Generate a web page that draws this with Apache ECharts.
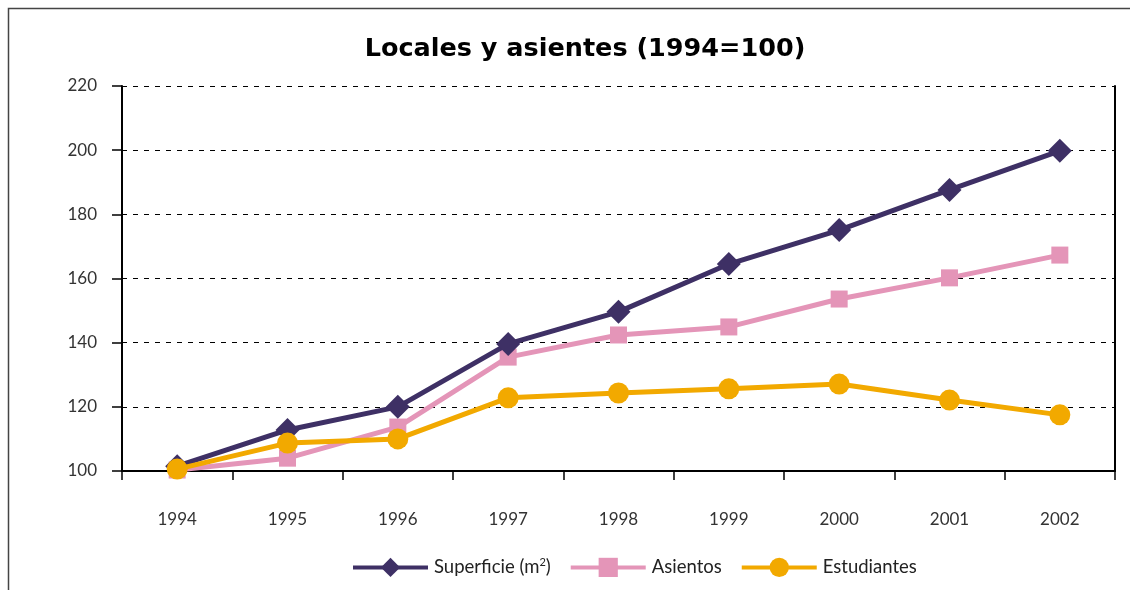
<!DOCTYPE html>
<html><head><meta charset="utf-8">
<script src="https://cdn.jsdelivr.net/npm/echarts@6/dist/echarts.min.js"></script>
<style>html,body{margin:0;padding:0;background:#fff}#c{width:1130px;height:590px}</style>
</head><body><div id="c"></div>
<script>
const years = ['1994','1995','1996','1997','1998','1999','2000','2001','2002'];
const superficie = [101.5, 112.8, 120, 139.6, 149.6, 164.5, 175.1, 187.6, 199.8];
const asientos = [100.3, 104, 113.7, 135.5, 142.4, 144.9, 153.6, 160.2, 167.3];
const estudiantes = [100.6, 108.7, 110, 122.8, 124.3, 125.6, 127.1, 122.1, 117.5];
const yTicks = [100, 120, 140, 160, 180, 200, 220];

const FONT = 'Lato, "Open Sans", sans-serif';
const chart = echarts.init(document.getElementById('c'), null, {renderer: 'canvas'});
chart.setOption({
  animation: false,
  textStyle: {fontFamily: FONT},
  title: {
    text: 'Locales y asientes (1994=100)',
    left: 580, top: 31, textAlign: 'center',
    textStyle: {fontFamily: '"DejaVu Sans", sans-serif', fontSize: 25.5, fontWeight: 'bold', color: '#000'}
  },
  graphic: [{
    type: 'rect', shape: {x: 8.5, y: 8.5, width: 1300, height: 800},
    style: {fill: 'none', stroke: '#444', lineWidth: 1.5}, silent: true
  }],
  grid: {left: 122, right: 15, top: 86, bottom: 119},
  legend: {
    bottom: 8, left: 346,
    itemWidth: 75, itemHeight: 24, itemGap: 18,
    lineStyle: {width: 4},
    textStyle: {fontFamily: FONT, fontSize: 18.5, color: '#222', padding: [0, 0, 0, 1],
      rich: {sup: {fontSize: 11, verticalAlign: 'top', padding: [0,0,9,0], fontFamily: FONT, color: '#222'}}},
    formatter: function(n){ return n === 'Superficie (m2)' ? 'Superficie (m{sup|2})' : n; },
    data: ['Superficie (m2)', 'Asientos', 'Estudiantes']
  },
  xAxis: {
    type: 'category', data: years, boundaryGap: true,
    axisLine: {lineStyle: {color: '#000', width: 2}},
    axisTick: {show: true, length: 9, lineStyle: {color: '#000', width: 1.5}},
    axisLabel: {margin: 40, fontSize: 17, color: '#333', fontFamily: FONT}
  },
  yAxis: [{
    type: 'value', min: yTicks[0], max: yTicks[yTicks.length-1], interval: 20,
    axisLine: {show: true, lineStyle: {color: '#000', width: 2}},
    axisTick: {show: true, length: 10, lineStyle: {color: '#000', width: 1.5}},
    axisLabel: {margin: 25, fontSize: 17, color: '#333', fontFamily: FONT},
    splitLine: {show: true, lineStyle: {color: '#000', type: [5, 6], width: 1}}
  }, {
    type: 'value', min: yTicks[0], max: yTicks[yTicks.length-1], interval: 20, position: 'right',
    axisLine: {show: true, lineStyle: {color: '#000', width: 2}},
    axisTick: {show: false}, axisLabel: {show: false}, splitLine: {show: false}
  }],
  series: [{
    name: 'Superficie (m2)', type: 'line', data: superficie,
    symbol: 'diamond', symbolSize: 24,
    lineStyle: {color: '#3e3065', width: 5}, itemStyle: {color: '#3e3065'}, z: 3
  }, {
    name: 'Asientos', type: 'line', data: asientos,
    symbol: 'rect', symbolSize: 17,
    lineStyle: {color: '#e495b8', width: 5}, itemStyle: {color: '#e495b8'}, z: 2
  }, {
    name: 'Estudiantes', type: 'line', data: estudiantes,
    symbol: 'circle', symbolSize: 21,
    lineStyle: {color: '#f2a900', width: 5}, itemStyle: {color: '#f2a900'}, z: 4
  }]
});
</script></body></html>
